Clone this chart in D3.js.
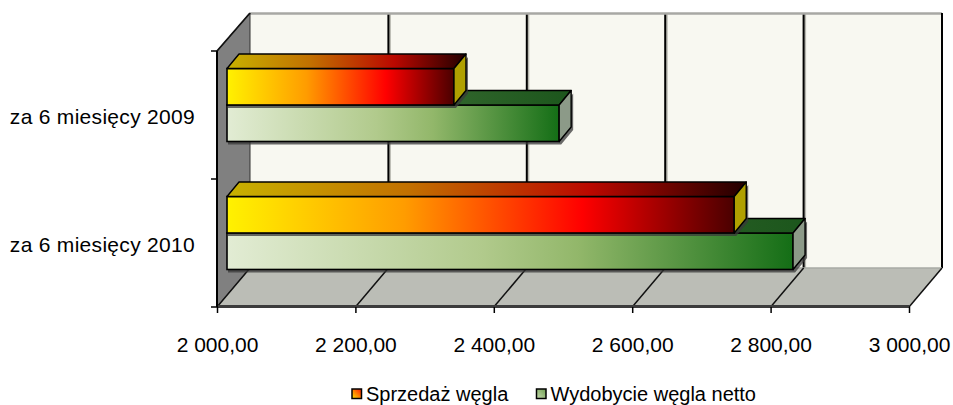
<!DOCTYPE html>
<html>
<head>
<meta charset="utf-8">
<script src="https://cdn.jsdelivr.net/npm/d3@7"></script>
<style>
  html, body { margin: 0; padding: 0; background: #ffffff; }
  svg { display: block; }
  text { font-family: "Liberation Sans", Arial, sans-serif; fill: #000; }
</style>
</head>
<body>
<svg id="chart" width="953" height="405"></svg>
<script>
// Coal sales and net output, half-year comparison (thousand tonnes)
const categories = ["za 6 miesięcy 2009", "za 6 miesięcy 2010"];
const seriesNames = ["Sprzedaż węgla", "Wydobycie węgla netto"];
const sprzedaz = [2328, 2733];
const wydobycie = [2480, 2818];
const tickValues = [2000, 2200, 2400, 2600, 2800, 3000];

const svg = d3.select("#chart");
const defs = svg.append("defs");

// Oblique 3D box geometry
const depth = { dx: 33, dy: -39 };          // full depth of the plot box
const barFront = { dx: 10, dy: -10 };       // bar front face offset from the front plane
const barDepth = { dx: 12, dy: -14.5 };     // depth of one bar

const x = d3.scaleLinear().domain([2000, 3000]).range([217, 909]);
const yFrontTop = 51, yFrontBottom = 307;

const yBand = d3.scaleBand()
  .domain(categories)
  .range([yFrontTop, yFrontBottom])
  .paddingInner(0.43)
  .paddingOuter(0.215);
const ySub = d3.scaleBand().domain(seriesNames).range([0, yBand.bandwidth()]);

const plPL = d3.formatLocale({ decimal: ",", thousands: "\u00a0", grouping: [3], currency: ["", " zł"] });
const fmt = plPL.format(",.2f");

// ---- gradients ----
function linGrad(id, stops, x2 = "100%", y2 = "0%", x1 = "0%", y1 = "0%") {
  const g = defs.append("linearGradient").attr("id", id)
    .attr("x1", x1).attr("y1", y1).attr("x2", x2).attr("y2", y2);
  stops.forEach(([o, c]) => g.append("stop").attr("offset", o).attr("stop-color", c));
}
linGrad("gOrangeFront", [[0, "#FFF200"], [0.35, "#FF9C00"], [0.7, "#FF0000"], [1, "#4A0000"]]);
linGrad("gOrangeTop", [[0, "#C8B200"], [0.35, "#C27000"], [0.7, "#BA0800"], [1, "#220000"]]);
linGrad("gGreenFront", [[0, "#E2ECD4"], [0.45, "#B1CA8C"], [0.62, "#92B76A"], [1, "#146E16"]]);
linGrad("gGreenTop", [[0, "#557F48"], [1, "#1C561C"]]);
linGrad("gLegOrange", [[0, "#FF1500"], [1, "#FFE600"]], "0%", "100%", "100%", "0%");
linGrad("gLegGreen", [[0, "#6E9E50"], [1, "#C8DCB0"]], "0%", "100%", "100%", "0%");

const style = {
  "Sprzedaż węgla": { front: "url(#gOrangeFront)", top: "url(#gOrangeTop)", end: "#B0A000" },
  "Wydobycie węgla netto": { front: "url(#gGreenFront)", top: "url(#gGreenTop)", end: "#8C9A88" }
};

const pts = a => a.map(p => p.join(",")).join(" ");

// ---- back wall ----
const bx0 = x(2000) + depth.dx, bx1 = x(3000) + depth.dx;
const byTop = 13, byBottom = yFrontBottom + depth.dy;
svg.append("rect").attr("x", bx0).attr("y", byTop)
  .attr("width", bx1 - bx0).attr("height", byBottom - byTop).attr("fill", "#F8F8F1");

// vertical gridlines on the back wall
const grid = svg.append("g");
tickValues.slice(1, -1).forEach(v => {
  const gx = x(v) + depth.dx;
  grid.append("line").attr("x1", gx + 1.5).attr("x2", gx + 1.5).attr("y1", byTop).attr("y2", byBottom)
    .attr("stroke", "#B8B8B0").attr("stroke-width", 2);
  grid.append("line").attr("x1", gx).attr("x2", gx).attr("y1", byTop).attr("y2", byBottom)
    .attr("stroke", "#000").attr("stroke-width", 2);
});
svg.append("line").attr("x1", bx0).attr("x2", bx1).attr("y1", byTop + 0.5).attr("y2", byTop + 0.5)
  .attr("stroke", "#A8A8A4").attr("stroke-width", 2.5);
svg.append("line").attr("x1", bx1).attr("x2", bx1).attr("y1", byTop).attr("y2", byBottom)
  .attr("stroke", "#000").attr("stroke-width", 2);

// ---- left side wall ----
svg.append("polygon")
  .attr("points", pts([[x(2000), yFrontBottom], [x(2000), yFrontTop], [bx0, byTop], [bx0, byBottom]]))
  .attr("fill", "#808080").attr("stroke", "#333").attr("stroke-width", 1);
svg.append("line").attr("x1", x(2000)).attr("y1", yFrontTop).attr("x2", bx0).attr("y2", byTop)
  .attr("stroke", "#111").attr("stroke-width", 1.8);

// ---- floor ----
svg.append("polygon")
  .attr("points", pts([[x(2000), yFrontBottom], [x(3000), yFrontBottom], [bx1, byBottom], [bx0, byBottom]]))
  .attr("fill", "#BBBDB6");
svg.append("line").attr("x1", bx0).attr("x2", bx1).attr("y1", byBottom).attr("y2", byBottom)
  .attr("stroke", "#A9ABA4").attr("stroke-width", 1.5);
tickValues.forEach(v => {
  svg.append("line").attr("x1", x(v)).attr("y1", yFrontBottom).attr("x2", x(v) + depth.dx).attr("y2", byBottom)
    .attr("stroke", "#111").attr("stroke-width", 1.5);
});
// front edge of the floor = category axis baseline
svg.append("line").attr("x1", x(2000)).attr("x2", x(3000)).attr("y1", yFrontBottom - 0.5).attr("y2", yFrontBottom - 0.5)
  .attr("stroke", "#3C3C3C").attr("stroke-width", 3);

// value axis (front edge)
const xAxis = d3.axisBottom(x).tickValues(tickValues).tickFormat(fmt).tickSize(6).tickPadding(24);
const gx = svg.append("g").attr("transform", `translate(0,${yFrontBottom})`).call(xAxis);
gx.select(".domain").remove();
gx.selectAll(".tick line").attr("stroke", "#000").attr("stroke-width", 1.5);
gx.selectAll(".tick text").attr("font-size", 21).attr("font-family", "Liberation Sans, Arial, sans-serif")
  .attr("fill", "#000").attr("dy", 0).attr("y", 45);

// category axis
const yAxisScale = d3.scaleBand().domain(categories).range([yFrontTop, yFrontBottom]);
svg.append("line").attr("x1", x(2000)).attr("x2", x(2000)).attr("y1", yFrontTop).attr("y2", yFrontBottom)
  .attr("stroke", "#000").attr("stroke-width", 2);
[yFrontTop, ...categories.map(c => yAxisScale(c) + yAxisScale.bandwidth())].forEach(yy => {
  svg.append("line").attr("x1", x(2000) - 6).attr("x2", x(2000)).attr("y1", yy).attr("y2", yy)
    .attr("stroke", "#000").attr("stroke-width", 1.5);
});
categories.forEach(c => {
  svg.append("text").attr("x", 195).attr("y", yAxisScale(c) + yAxisScale.bandwidth() / 2 + 9)
    .attr("text-anchor", "end").attr("font-size", 21).attr("letter-spacing", 0.3).text(c);
});

// ---- bars ----
const rows = [];
categories.forEach((c, i) => {
  rows.push({ cat: c, series: seriesNames[1], value: wydobycie[i] });
  rows.push({ cat: c, series: seriesNames[0], value: sprzedaz[i] });
});

const barsG = svg.append("g");
rows.forEach(d => {
  const x0 = x(2000) + barFront.dx;
  const x1 = x(d.value) + barFront.dx;
  const y0 = yBand(d.cat) + ySub(d.series) + barFront.dy;
  const h = ySub.bandwidth();
  const y1 = y0 + h;
  const s = style[d.series];
  const g = barsG.append("g");
  // soft shadow under the bar
  g.append("polygon")
    .attr("points", pts([[x0 + 1, y1 + 3], [x1 + 2, y1 + 3], [x1 + barDepth.dx + 2, y1 + barDepth.dy + 3],
                         [x1 + barDepth.dx + 2, y0 + barDepth.dy + 3], [x1 + 2, y0 + 3], [x0 + 1, y0 + 3]]))
    .attr("fill", "#3a3a3a").attr("opacity", 0.75);
  // front face
  g.append("rect").attr("x", x0).attr("y", y0).attr("width", x1 - x0).attr("height", h)
    .attr("fill", s.front).attr("stroke", "#000").attr("stroke-width", 1.6);
  // top face
  g.append("polygon")
    .attr("points", pts([[x0, y0], [x1, y0], [x1 + barDepth.dx, y0 + barDepth.dy], [x0 + barDepth.dx, y0 + barDepth.dy]]))
    .attr("fill", s.top).attr("stroke", "#000").attr("stroke-width", 1.4).attr("stroke-linejoin", "round");
  // end face
  g.append("polygon")
    .attr("points", pts([[x1, y0], [x1 + barDepth.dx, y0 + barDepth.dy], [x1 + barDepth.dx, y1 + barDepth.dy], [x1, y1]]))
    .attr("fill", s.end).attr("stroke", "#000").attr("stroke-width", 1.4).attr("stroke-linejoin", "round");
});

// ---- legend ----
const legend = svg.append("g");
const legendItems = [
  { name: seriesNames[0], fill: "url(#gLegOrange)", x: 352 },
  { name: seriesNames[1], fill: "url(#gLegGreen)", x: 536.5 }
];
legendItems.forEach(it => {
  legend.append("rect").attr("x", it.x).attr("y", 389).attr("width", 9.5).attr("height", 9.5)
    .attr("fill", it.fill).attr("stroke", "#000").attr("stroke-width", 1.5);
  legend.append("text").attr("x", it.x + 14).attr("y", 401).attr("font-size", 20).text(it.name);
});
</script>
</body>
</html>
